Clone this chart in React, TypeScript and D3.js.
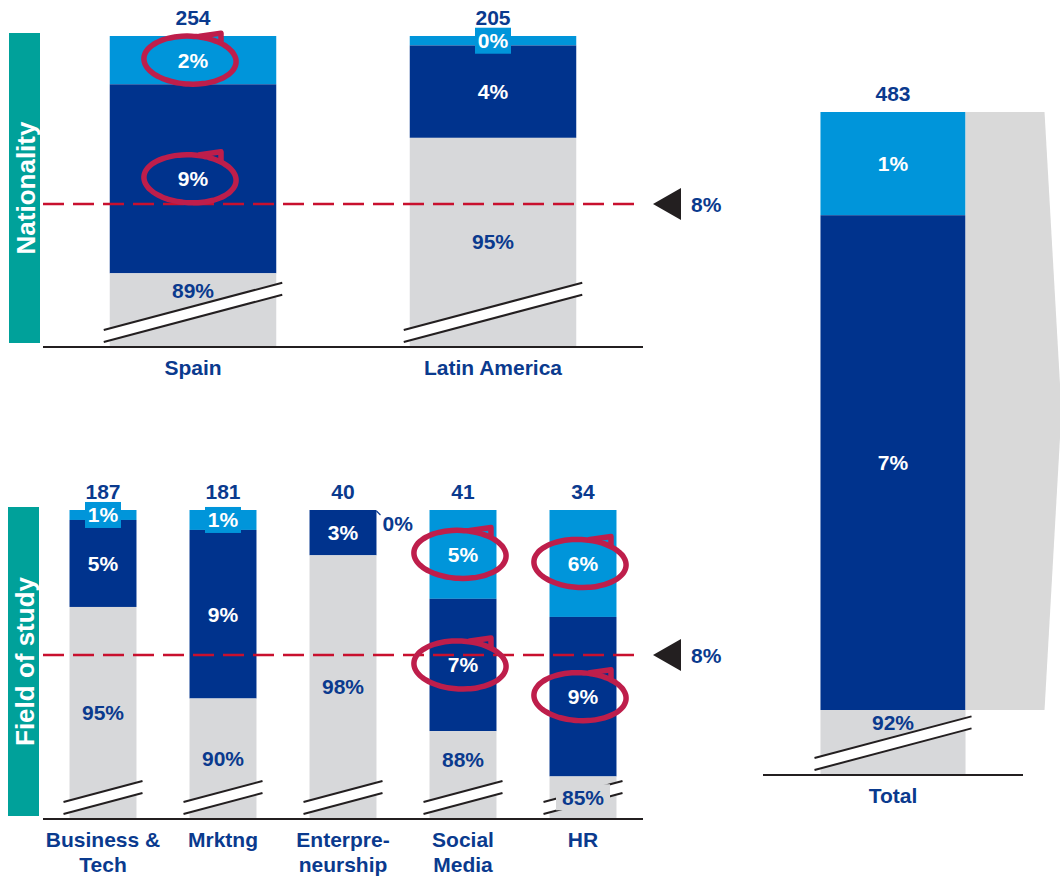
import React from "react";
import * as d3 from "d3";

// ---------- data ----------
const natCategories = ["Spain", "Latin America"];
const natCounts = [254, 205];
const natLight = [2.3, 0.45];
const natDark = [9.0, 4.4];
const natGray = [89, 95];

const fieldCategories = ["Business &|Tech", "Mrktng", "Enterpre-|neurship", "Social|Media", "HR"];
const fieldCounts = [187, 181, 40, 41, 34];
const fieldLight = [0.55, 1.1, 0, 4.9, 5.9];
const fieldDark = [4.8, 9.3, 2.5, 7.3, 8.8];
const fieldGray = [95, 90, 98, 88, 85];

const totalCategories = ["Total"];
const totalCounts = [483];
const totalLight = [1.45];
const totalDark = [6.95];
const totalGray = [92];

const benchmark = 8;
const groupTitles = ["Nationality", "Field of study"];

// highlighted (circled) segments: [panel, category index, segment]
const highlights: [string, number, string][] = [
  ["nat", 0, "light"],
  ["nat", 0, "dark"],
  ["field", 3, "light"],
  ["field", 3, "dark"],
  ["field", 4, "light"],
  ["field", 4, "dark"],
];

// ---------- styles ----------
const C = {
  light: "#0095DA",
  dark: "#00338D",
  gray: "#D7D8DA",
  callout: "#D9D9D9",
  teal: "#00A19A",
  text: "#0A3A8E",
  red: "#C8102E",
  circle: "#BE1E4B",
  axis: "#231F20",
};
const FONT = "'Liberation Sans', Arial, Helvetica, sans-serif";
const FS = 21;

type PanelDef = {
  id: string;
  cats: string[];
  counts: number[];
  light: number[];
  dark: number[];
  gray: number[];
  x: d3.ScaleBand<string>;
  y: d3.ScaleLinear<number, number>;
  base: number;
  axis: [number, number];
  clearance: number;
  bench: boolean;
};

const natX = d3.scaleBand<string>().domain(natCategories).range([43, 643]).paddingInner(0.445).paddingOuter(0.2225);
const natY = d3.scaleLinear().domain([100, 100 - benchmark]).range([36, 204]);
const fieldX = d3.scaleBand<string>().domain(fieldCategories).range([43, 643]).paddingInner(0.442).paddingOuter(0.221);
const fieldY = d3.scaleLinear().domain([100, 100 - benchmark]).range([510, 655]);
const totalX = d3.scaleBand<string>().domain(totalCategories).range([763, 1023]).padding(0.2838);
const totalY = d3.scaleLinear().domain([100, 100 - (totalLight[0] + totalDark[0])]).range([112, 710]);

const panels: PanelDef[] = [
  { id: "nat", cats: natCategories, counts: natCounts, light: natLight, dark: natDark, gray: natGray, x: natX, y: natY, base: 346, axis: [43, 643], clearance: 16, bench: true },
  { id: "field", cats: fieldCategories, counts: fieldCounts, light: fieldLight, dark: fieldDark, gray: fieldGray, x: fieldX, y: fieldY, base: 818, axis: [43, 643], clearance: 32, bench: true },
  { id: "total", cats: totalCategories, counts: totalCounts, light: totalLight, dark: totalDark, gray: totalGray, x: totalX, y: totalY, base: 774, axis: [763, 1023], clearance: 15, bench: false },
];

const pct = (v: number) => `${Math.round(v)}%`;
const SLOPE = 0.265;

function Bar({ p, i }: { p: PanelDef; i: number }) {
  const key = p.cats[i];
  const x0 = p.x(key)!;
  const w = p.x.bandwidth();
  const cx = x0 + w / 2;
  const top = p.y(100);
  const yL = p.y(100 - p.light[i]);
  const yD = p.y(100 - p.light[i] - p.dark[i]);
  const base = p.base;

  // break marks
  const bx0 = x0 - 6;
  const bx1 = x0 + w + 6;
  const low0 = base - 4;
  const low1 = low0 - SLOPE * (bx1 - bx0);
  const gap = 12;
  const upCenter = low0 - SLOPE * (cx - bx0) - gap;

  const grayTight = upCenter - yD < 20;
  const grayLabelY = grayTight ? (yD + base) / 2 : Math.min((yD + base) / 2, upCenter - p.clearance);

  const lightH = yL - top;
  const lightLabelY = (top + yL) / 2;
  const darkLabelY = (yL + yD) / 2;
  const lines = key.split("|");

  const textProps = { fontFamily: FONT, fontWeight: 700, fontSize: FS, textAnchor: "middle" as const, dominantBaseline: "central" as const };

  return (
    <g>
      {p.light[i] > 0 && <rect x={x0} y={top} width={w} height={lightH} fill={C.light} />}
      <rect x={x0} y={yL} width={w} height={yD - yL} fill={C.dark} />
      <rect x={x0} y={yD} width={w} height={base - yD} fill={C.gray} />
      {p.id === "total" && (
        <polygon
          points={[
            [x0 + w, top],
            [x0 + w + 79, top],
            [x0 + w + 96, (top + yD) / 2],
            [x0 + w + 79, yD],
            [x0 + w, yD],
          ].map((d) => d.join(",")).join(" ")}
          fill={C.callout}
        />
      )}
      {/* axis break */}
      <polygon points={`${bx0},${low0} ${bx1},${low1} ${bx1},${low1 - gap} ${bx0},${low0 - gap}`} fill="#fff" />
      <line x1={bx0} y1={low0} x2={bx1} y2={low1} stroke={C.axis} strokeWidth={2} />
      <line x1={bx0} y1={low0 - gap} x2={bx1} y2={low1 - gap} stroke={C.axis} strokeWidth={2} />
      {/* gray label */}
      {grayTight && <rect x={cx - 27} y={grayLabelY - 13} width={54} height={26} fill={C.gray} />}
      <text x={cx} y={grayLabelY} fill={C.text} {...textProps}>{pct(p.gray[i])}</text>
      {/* dark label */}
      <text x={cx} y={darkLabelY} fill="#fff" {...textProps}>{pct(p.dark[i])}</text>
      {/* light label */}
      {p.light[i] > 0 && lightH < 24 && (
        <rect x={cx - 18} y={lightLabelY - 13} width={36} height={26} fill={C.light} />
      )}
      {p.light[i] > 0 ? (
        <text x={cx} y={lightLabelY} fill="#fff" {...textProps}>{pct(p.light[i])}</text>
      ) : (
        <g>
          <line x1={x0 + w} y1={top + 1} x2={x0 + w + 4} y2={top + 5} stroke={C.text} strokeWidth={1.2} />
          <text x={x0 + w + 6} y={top + 13} fill={C.text} {...textProps} textAnchor="start">{pct(p.light[i])}</text>
        </g>
      )}
      {/* count */}
      <text x={cx} y={top - 19} fill={C.text} {...textProps}>{p.counts[i]}</text>
      {/* category label */}
      {lines.map((ln, k) => (
        <text key={k} x={cx} y={base + 29 + k * 25} fill={C.text} fontFamily={FONT} fontWeight={700} fontSize={FS} textAnchor="middle">
          {ln}
        </text>
      ))}
    </g>
  );
}

function Highlight({ p, i, seg }: { p: PanelDef; i: number; seg: string }) {
  const key = p.cats[i];
  const cx = p.x(key)! + p.x.bandwidth() / 2 - 3;
  const top = p.y(100);
  const yL = p.y(100 - p.light[i]);
  const yD = p.y(100 - p.light[i] - p.dark[i]);
  const cy = seg === "light" ? (top + yL) / 2 : (yL + yD) / 2;
  const rx = 46;
  const ry = 24;
  const pts = d3.range(0, 361, 6).map((a) => {
    const t = ((a - 70) * Math.PI) / 180;
    const wob = 1 + 0.03 * Math.sin(t * 2);
    return [cx + rx * Math.cos(t) * wob, cy + ry * Math.sin(t) * wob] as [number, number];
  });
  const line = d3.line().curve(d3.curveCatmullRom)(pts) || "";
  return (
    <g fill="none" stroke={C.circle} strokeWidth={5.5} strokeLinecap="round" strokeLinejoin="round">
      <path d={line} />
      <path d={`M${cx + 10},${cy - ry} L${cx + 31},${cy - ry - 3} L${cx + 31},${cy - ry + 5}`} />
    </g>
  );
}

export default function App() {
  return (
    <svg width={1060} height={880} style={{ position: "absolute", left: 0, top: 0, background: "#fff" }}>
      {/* group title boxes */}
      {[
        { t: groupTitles[0], x: 9, y: 33, h: 310 },
        { t: groupTitles[1], x: 8, y: 507, h: 309 },
      ].map((g) => (
        <g key={g.t}>
          <rect x={g.x} y={g.y} width={31} height={g.h} fill={C.teal} />
          <text
            transform={`translate(${g.x + 16.5},${g.y + g.h / 2}) rotate(-90)`}
            fill="#fff"
            fontFamily={FONT}
            fontWeight={700}
            fontSize={26}
            textAnchor="middle"
            dominantBaseline="central"
          >
            {g.t}
          </text>
        </g>
      ))}

      {panels.map((p) => (
        <g key={p.id}>
          {p.cats.map((_, i) => (
            <Bar key={i} p={p} i={i} />
          ))}
          <line x1={p.axis[0]} y1={p.base + 1} x2={p.axis[1]} y2={p.base + 1} stroke={C.axis} strokeWidth={2} />
          {p.bench && (
            <g>
              <line
                x1={p.axis[0]}
                x2={p.axis[1]}
                y1={p.y(100 - benchmark)}
                y2={p.y(100 - benchmark)}
                stroke={C.red}
                strokeWidth={2.5}
                strokeDasharray="21 9"
              />
              <polygon
                points={`653,${p.y(100 - benchmark)} 681,${p.y(100 - benchmark) - 16} 681,${p.y(100 - benchmark) + 16}`}
                fill={C.axis}
              />
              <text
                x={691}
                y={p.y(100 - benchmark)}
                fill={C.text}
                fontFamily={FONT}
                fontWeight={700}
                fontSize={FS}
                dominantBaseline="central"
              >
                {benchmark}%
              </text>
            </g>
          )}
        </g>
      ))}

      {highlights.map(([pid, i, seg], k) => {
        const p = panels.find((q) => q.id === pid)!;
        return <Highlight key={k} p={p} i={i} seg={seg} />;
      })}
    </svg>
  );
}
